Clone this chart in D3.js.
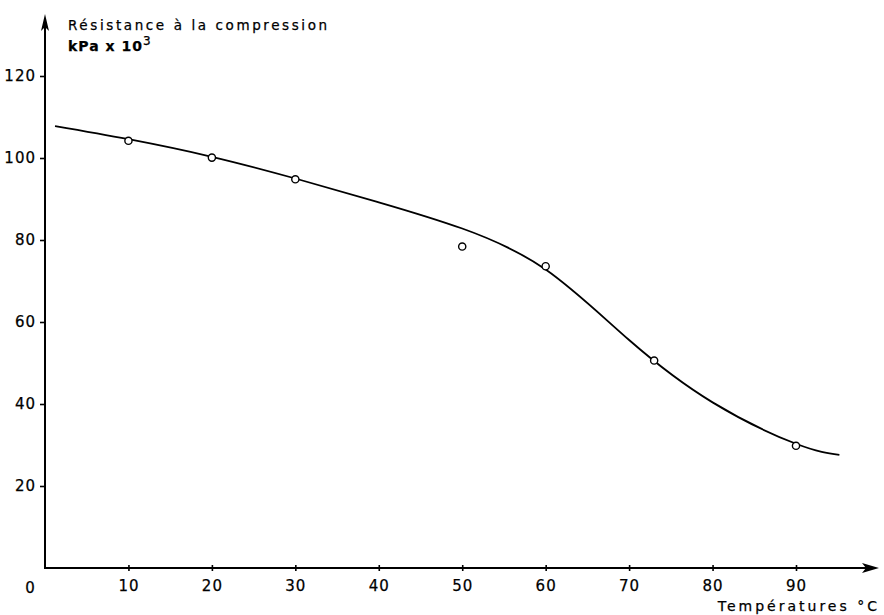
<!DOCTYPE html>
<html>
<head>
<meta charset="utf-8">
<script src="https://cdn.jsdelivr.net/npm/d3@7"></script>
<style>
  body { margin: 0; background: #fff; }
  svg { display: block; }
  .lbl { font-family: "DejaVu Sans", sans-serif; fill: #000; stroke: #000; stroke-width: 0.25px; }
</style>
</head>
<body>
<div class="chart"></div>
<script>
// measured values (circles)
var tempPoints = [10, 20, 30, 50, 60, 73, 90];
var resistPoints = [104.2, 100.1, 94.8, 78.4, 73.6, 50.6, 29.8];

// hand-drawn fitted curve
var curveTemp = [1.2, 10, 20, 30, 40, 50, 60, 70, 80, 90, 95.2];
var curveResist = [107.8, 104.6, 100.3, 95, 89.2, 82.8, 72.8, 55.6, 40.4, 30.3, 27.6];

var xTicks = [10, 20, 30, 40, 50, 60, 70, 80, 90];
var yTicks = [20, 40, 60, 80, 100, 120];

var width = 884, height = 615;

var svg = d3.select('.chart')
  .append('svg')
    .attr('width', width)
    .attr('height', height);

var xScale = d3.scaleLinear()
    .domain([0, 90])
    .range([45, 796]);

var yScale = d3.scaleLinear()
    .domain([0, 120])
    .range([568, 76]);

// x axis line with arrow
svg.append('line')
  .attr('x1', xScale(0)).attr('x2', 872)
  .attr('y1', yScale(0)).attr('y2', yScale(0))
  .attr('stroke', '#000').attr('stroke-width', 2);
svg.append('path')
  .attr('d', 'M879,' + yScale(0) + ' L862,' + (yScale(0) - 5) + ' L866,' + yScale(0) + ' L862,' + (yScale(0) + 5) + ' Z')
  .attr('fill', '#000');

// y axis line with arrow
svg.append('line')
  .attr('x1', xScale(0)).attr('x2', xScale(0))
  .attr('y1', yScale(0) + 1).attr('y2', 22)
  .attr('stroke', '#000').attr('stroke-width', 2);
svg.append('path')
  .attr('d', 'M' + xScale(0) + ',14 L' + (xScale(0) - 4) + ',31 L' + xScale(0) + ',27 L' + (xScale(0) + 4) + ',31 Z')
  .attr('fill', '#000');

// x ticks
var xAxis = d3.axisBottom(xScale)
    .tickValues(xTicks)
    .tickSize(3)
    .tickPadding(9);
var gx = svg.append('g')
  .attr('transform', 'translate(0,' + yScale(0) + ')')
  .call(xAxis);
gx.select('.domain').remove();
gx.selectAll('line').attr('y1', -3).attr('stroke-width', 1.6);
gx.selectAll('text')
  .attr('class', 'lbl')
  .style('font-size', '15px')
  .style('letter-spacing', '1px');

// y ticks
var yAxis = d3.axisLeft(yScale)
    .tickValues(yTicks)
    .tickSize(5)
    .tickPadding(4);
var gy = svg.append('g')
  .attr('transform', 'translate(' + xScale(0) + ',0)')
  .call(yAxis);
gy.select('.domain').remove();
gy.selectAll('line').attr('stroke-width', 1.6);
gy.selectAll('text')
  .attr('class', 'lbl')
  .style('font-size', '15px')
  .style('letter-spacing', '1px');

// origin label
svg.append('text')
  .attr('class', 'lbl')
  .attr('x', xScale(0) - 15)
  .attr('y', yScale(0) + 25)
  .style('text-anchor', 'middle')
  .style('font-size', '15px')
  .text('0');

// fitted curve
var line = d3.line()
  .x(function(d, i) { return xScale(curveTemp[i]); })
  .y(function(d) { return yScale(d); })
  .curve(d3.curveNatural);

svg.append('path')
  .datum(curveResist)
  .attr('d', line)
  .attr('fill', 'none')
  .attr('stroke', '#000')
  .attr('stroke-width', 1.8);

// measured points
svg.selectAll('.pt')
  .data(resistPoints)
  .enter()
  .append('circle')
  .attr('class', 'pt')
  .attr('cx', function(d, i) { return xScale(tempPoints[i]); })
  .attr('cy', function(d) { return yScale(d); })
  .attr('r', 3.6)
  .attr('fill', '#fff')
  .attr('stroke', '#000')
  .attr('stroke-width', 1.4);

// y axis title
svg.append('text')
  .attr('class', 'lbl')
  .attr('x', 68)
  .attr('y', 30)
  .style('font-size', '13.5px')
  .style('letter-spacing', '2.6px')
  .text('Résistance à la compression');

var unit = svg.append('text')
  .attr('class', 'lbl')
  .attr('x', 68)
  .attr('y', 51)
  .style('font-size', '14px')
  .style('font-weight', 'bold')
  .style('letter-spacing', '1px');
unit.append('tspan').text('kPa x 10');
unit.append('tspan')
  .attr('dy', -6)
  .style('font-size', '12px')
  .style('font-weight', 'normal')
  .text('3');

// x axis title
svg.append('text')
  .attr('class', 'lbl')
  .attr('x', 880)
  .attr('y', 611)
  .style('text-anchor', 'end')
  .style('font-size', '14px')
  .style('letter-spacing', '3px')
  .text('Températures °C');
</script>
</body>
</html>
